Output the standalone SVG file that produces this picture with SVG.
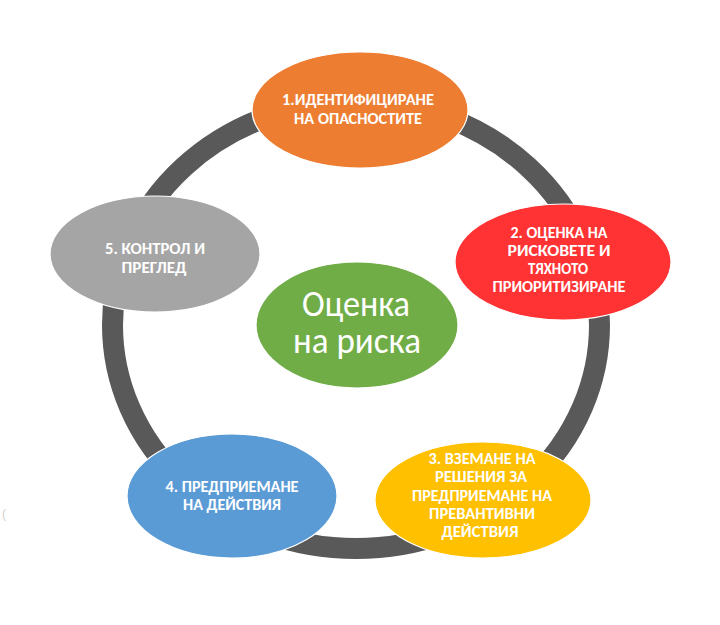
<svg xmlns="http://www.w3.org/2000/svg" width="720" height="625" viewBox="0 0 720 625">
  <style>
    .bg { fill: #ffffff; }
    .ring { fill: none; stroke: #595959; stroke-width: 21; }
    .node { stroke: #ffffff; stroke-width: 1.2; }
    .lbl { font-family: Carlito, "Open Sans", "Noto Sans", sans-serif; font-weight: bold; font-size: 15px; fill: #ffffff; text-anchor: middle; }
    .big { font-family: Carlito, "Open Sans", "Noto Sans", sans-serif; font-weight: normal; font-size: 37px; fill: #ffffff; text-anchor: middle; }
    .stray { font-family: "Liberation Sans", sans-serif; font-size: 12px; fill: #d0d0d0; }
  </style>
  <rect class="bg" x="0" y="0" width="720" height="625"/>
  <g id="connectors">
    <ellipse class="ring" cx="356" cy="325" rx="243.5" ry="223.5"/>
  </g>
  <g id="node-1">
    <ellipse class="node" cx="360" cy="110" rx="108" ry="58" fill="#ED7D31"/>
    <text class="lbl" x="358" y="105" textLength="152" lengthAdjust="spacingAndGlyphs">1.ИДЕНТИФИЦИРАНЕ</text>
    <text class="lbl" x="358" y="124" textLength="128" lengthAdjust="spacingAndGlyphs">НА ОПАСНОСТИТЕ</text>
  </g>
  <g id="node-2">
    <ellipse class="node" cx="563" cy="262" rx="108" ry="58" fill="#FF3334"/>
    <text class="lbl" x="559" y="238" textLength="97" lengthAdjust="spacingAndGlyphs">2. ОЦЕНКА НА</text>
    <text class="lbl" x="559" y="256" textLength="103" lengthAdjust="spacingAndGlyphs">РИСКОВЕТЕ И</text>
    <text class="lbl" x="558" y="274" textLength="60" lengthAdjust="spacingAndGlyphs">ТЯХНОТО</text>
    <text class="lbl" x="559" y="292" textLength="133" lengthAdjust="spacingAndGlyphs">ПРИОРИТИЗИРАНЕ</text>
  </g>
  <g id="node-3">
    <ellipse class="node" cx="483" cy="500" rx="108" ry="58" fill="#FFC000"/>
    <text class="lbl" x="482" y="464" textLength="107" lengthAdjust="spacingAndGlyphs">3. ВЗЕМАНЕ НА</text>
    <text class="lbl" x="481" y="482" textLength="92" lengthAdjust="spacingAndGlyphs">РЕШЕНИЯ ЗА</text>
    <text class="lbl" x="482" y="500.5" textLength="140" lengthAdjust="spacingAndGlyphs">ПРЕДПРИЕМАНЕ НА</text>
    <text class="lbl" x="482" y="518.5" textLength="106" lengthAdjust="spacingAndGlyphs">ПРЕВАНТИВНИ</text>
    <text class="lbl" x="480" y="537" textLength="77" lengthAdjust="spacingAndGlyphs">ДЕЙСТВИЯ</text>
  </g>
  <g id="node-4">
    <ellipse class="node" cx="232" cy="496" rx="105" ry="62" fill="#5B9BD5"/>
    <text class="lbl" x="232" y="492" textLength="133" lengthAdjust="spacingAndGlyphs">4. ПРЕДПРИЕМАНЕ</text>
    <text class="lbl" x="232" y="509.5" textLength="98" lengthAdjust="spacingAndGlyphs">НА ДЕЙСТВИЯ</text>
  </g>
  <g id="node-5">
    <ellipse class="node" cx="155" cy="254" rx="105" ry="58" fill="#A5A5A5"/>
    <text class="lbl" x="155" y="254" textLength="100" lengthAdjust="spacingAndGlyphs">5. КОНТРОЛ И</text>
    <text class="lbl" x="154" y="273" textLength="65" lengthAdjust="spacingAndGlyphs">ПРЕГЛЕД</text>
  </g>
  <g id="node-center">
    <ellipse class="node" cx="357" cy="325" rx="101" ry="63" fill="#70AD47"/>
    <text class="big" x="356" y="316" textLength="108" lengthAdjust="spacingAndGlyphs">Оценка</text>
    <text class="big" x="357" y="353" textLength="128" lengthAdjust="spacingAndGlyphs">на риска</text>
  </g>
  <text class="stray" x="2" y="518">(</text>
</svg>
